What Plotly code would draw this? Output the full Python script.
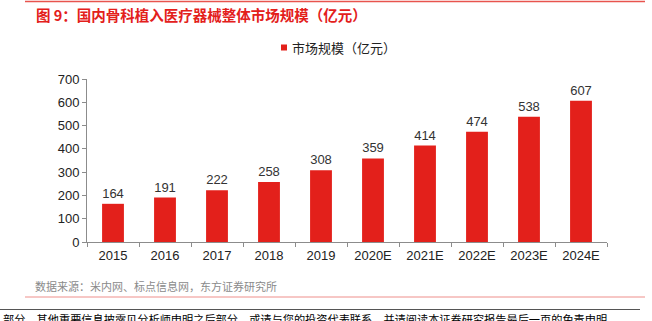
import plotly.graph_objects as go

categories = ["2015", "2016", "2017", "2018", "2019", "2020E", "2021E", "2022E", "2023E", "2024E"]
values = [164, 191, 222, 258, 308, 359, 414, 474, 538, 607]
series_name = "市场规模（亿元）"
title_text = "图 9：国内骨科植入医疗器械整体市场规模（亿元）"
source_text = "数据来源：米内网、标点信息网，东方证券研究所"
footer_text = "部分，其他重要信息披露见分析师申明之后部分，或请与您的投资代表联系，并请阅读本证券研究报告最后一页的免责申明"

W, H = 652, 321
L, R, T, B = 87, 607, 79, 242
pw, ph = R - L, B - T

def px(x):
    return (x - L) / pw

def py(y):
    return (B - y) / ph

RED = "#E3201B"
FONT_NUM = "Liberation Sans, Arial, sans-serif"
FONT_CJK = "Noto Sans CJK SC, sans-serif"

fig = go.Figure()
fig.add_trace(go.Bar(
    x=categories, y=values, name=series_name,
    marker=dict(color=RED, line=dict(width=0)),
    text=[str(v) for v in values], textposition="outside",
    textfont=dict(family=FONT_NUM, size=13, color="#333333"),
    cliponaxis=False, showlegend=False,
))

fig.update_layout(
    width=W, height=H,
    margin=dict(l=L, r=W - R, t=T, b=H - B),
    paper_bgcolor="white", plot_bgcolor="white",
    bargap=0.58,
    showlegend=False,
    font=dict(family=FONT_NUM, size=13, color="#222222"),
)
fig.update_yaxes(range=[0, 700], dtick=100, showgrid=False, showline=True,
                 linecolor="#8c8c8c", linewidth=1, ticks="outside", ticklen=4,
                 tickcolor="#8c8c8c", zeroline=False,
                 tickfont=dict(family=FONT_NUM, size=13, color="#222222"))
fig.update_xaxes(showgrid=False, showline=True, linecolor="#8c8c8c", linewidth=1,
                 ticks="outside", ticklen=4, tickcolor="#8c8c8c", tickson="boundaries",
                 ticklabelstandoff=1,
                 tickfont=dict(family=FONT_NUM, size=13, color="#222222"))

# legend (manual)
fig.add_annotation(text=series_name, xref="paper", yref="paper",
                   x=px(290), y=py(47.5), xanchor="left", yanchor="middle", showarrow=False,
                   font=dict(family=FONT_CJK, size=13, color="#222222"))
# title
fig.add_annotation(text="<b>" + title_text + "</b>", xref="paper", yref="paper",
                   x=px(34), y=py(14), xanchor="left", yanchor="middle", showarrow=False,
                   font=dict(family=FONT_CJK, size=14.5, color=RED))
# source
fig.add_annotation(text=source_text, xref="paper", yref="paper",
                   x=px(33), y=py(286), xanchor="left", yanchor="middle", showarrow=False,
                   font=dict(family=FONT_CJK, size=11, color="#8a8a8a"))
# footer
fig.add_annotation(text=footer_text, xref="paper", yref="paper",
                   x=px(1), y=py(319), xanchor="left", yanchor="middle", showarrow=False,
                   font=dict(family=FONT_CJK, size=11.2, color="#000000"))

shapes = [
    dict(type="rect", xref="paper", yref="paper", x0=px(281), x1=px(287), y0=py(44.5), y1=py(50.5),
         fillcolor=RED, line=dict(width=0)),
    dict(type="line", xref="paper", yref="paper", x0=px(25), x1=px(645), y0=py(1.5), y1=py(1.5),
         line=dict(color="#E8544E", width=1.5)),
    dict(type="line", xref="paper", yref="paper", x0=px(25), x1=px(645), y0=py(297), y1=py(297),
         line=dict(color="#EE8F8B", width=1)),
    dict(type="line", xref="paper", yref="paper", x0=px(0), x1=px(640), y0=py(309.5), y1=py(309.5),
         line=dict(color="#555555", width=1)),
]
fig.update_layout(shapes=shapes)

fig.write_html("out.html")
